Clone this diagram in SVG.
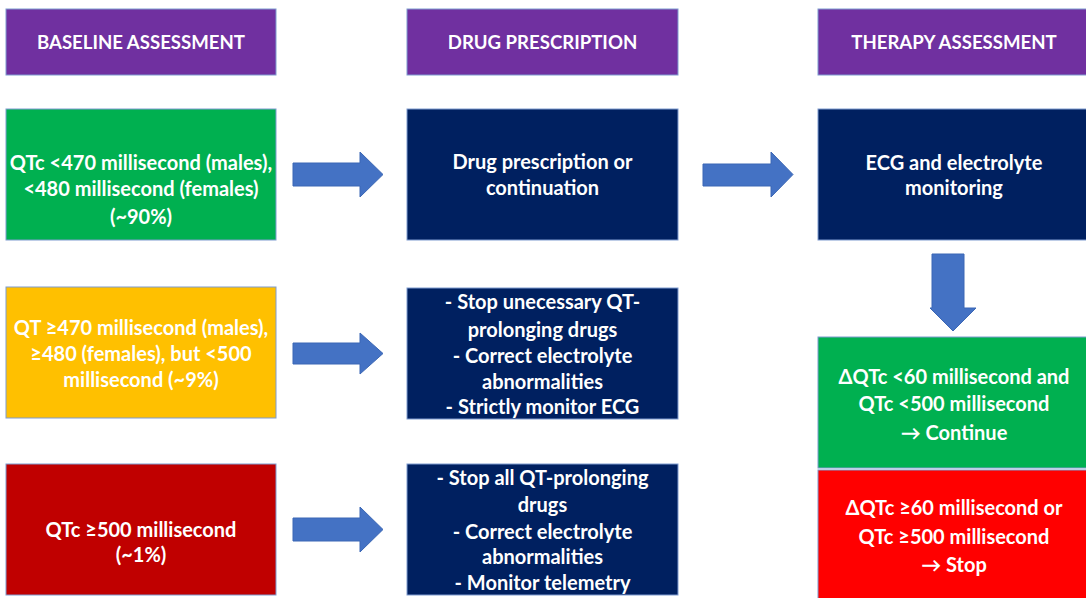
<svg xmlns="http://www.w3.org/2000/svg" width="1086" height="598" viewBox="0 0 1086 598">
<style>
.box{stroke:#7F9BD0;stroke-width:1}
.hdr{fill:#7030A0}
.navy{fill:#002060}
.green{fill:#00B050}
.yellow{fill:#FFC000}
.dred{fill:#C00000}
.red{fill:#FF0000}
text{font-family:Lato,"Open Sans",sans-serif;font-weight:bold;font-size:20px;fill:#FFFFFF;text-anchor:middle}
.h{font-size:18.6px}
.arrow{fill:#4472C4;stroke:#3B67B5;stroke-width:1}
</style>
<rect width="1086" height="598" fill="#FFFFFF"/>
<g id="hdr-baseline"><rect class="box hdr" x="6" y="9" width="270" height="66"/><text class="h" x="141" y="49">BASELINE ASSESSMENT</text></g>
<g id="hdr-drug"><rect class="box hdr" x="407" y="9" width="271" height="66"/><text class="h" x="542.5" y="49">DRUG PRESCRIPTION</text></g>
<g id="hdr-therapy"><rect class="box hdr" x="818" y="9" width="272" height="66"/><text class="h" x="954" y="49">THERAPY ASSESSMENT</text></g>

<g id="base-green"><rect class="box green" x="6" y="109" width="270" height="131"/>
<text x="141" y="170">QTc &lt;470 millisecond (males),</text>
<text x="141" y="196">&lt;480 millisecond (females)</text>
<text x="141" y="224">(~90%)</text></g>
<g id="base-yellow"><rect class="box yellow" x="6" y="287" width="270" height="131"/>
<text x="141" y="335">QT ≥470 millisecond (males),</text>
<text x="141" y="361">≥480 (females), but &lt;500</text>
<text x="141" y="387">millisecond (~9%)</text></g>
<g id="base-red"><rect class="box dred" x="6" y="464" width="270" height="131"/>
<text x="141" y="537">QTc ≥500 millisecond</text>
<text x="141" y="562">(~1%)</text></g>

<g id="drug-1"><rect class="box navy" x="407" y="109" width="271" height="131"/>
<text x="542.5" y="169">Drug prescription or</text>
<text x="542.5" y="195">continuation</text></g>
<g id="drug-2"><rect class="box navy" x="407" y="288" width="271" height="131"/>
<text x="542.5" y="309">- Stop unecessary QT-</text>
<text x="542.5" y="337">prolonging drugs</text>
<text x="542.5" y="363">- Correct electrolyte</text>
<text x="542.5" y="389">abnormalities</text>
<text x="542.5" y="414">- Strictly monitor ECG</text></g>
<g id="drug-3"><rect class="box navy" x="407" y="464" width="271" height="131"/>
<text x="542.5" y="485">- Stop all QT-prolonging</text>
<text x="542.5" y="512">drugs</text>
<text x="542.5" y="539">- Correct electrolyte</text>
<text x="542.5" y="564">abnormalities</text>
<text x="542.5" y="590">- Monitor telemetry</text></g>

<g id="ther-ecg"><rect class="box navy" x="818" y="109" width="272" height="131"/>
<text x="954" y="170">ECG and electrolyte</text>
<text x="954" y="195">monitoring</text></g>
<g id="ther-continue"><rect class="box green" x="818" y="337" width="272" height="131"/>
<text x="954" y="384">ΔQTc &lt;60 millisecond and</text>
<text x="954" y="411">QTc &lt;500 millisecond</text>
<text x="954" y="440">→ Continue</text></g>
<g id="ther-stop"><rect class="box red" x="818" y="470" width="272" height="132"/>
<text x="954" y="515">ΔQTc ≥60 millisecond or</text>
<text x="954" y="544">QTc ≥500 millisecond</text>
<text x="954" y="572">→ Stop</text></g>

<g id="connectors">
<polygon class="arrow" points="293,163 360,163 360,152 383,174.5 360,197 360,186 293,186"/>
<polygon class="arrow" points="703,164 771,164 771,152 793,174.5 771,197 771,186 703,186"/>
<polygon class="arrow" points="293,343 360,343 360,333 383,353.5 360,374 360,364 293,364"/>
<polygon class="arrow" points="293,518 360,518 360,507 383,529.5 360,552 360,541 293,541"/>
<polygon class="arrow" points="932,254 964,254 964,308 976,308 953,331 930,308 932,308"/>
</g>
</svg>
